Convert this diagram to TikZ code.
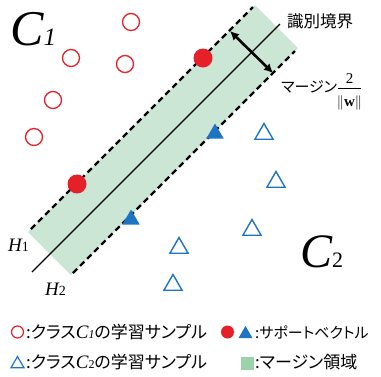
\documentclass[tikz,border=0pt]{standalone}
\usepackage{fontspec}
\setmainfont{Liberation Serif}
\newfontfamily\cjk[RawFeature={+palt}]{Noto Sans CJK JP}
\usetikzlibrary{arrows.meta,shapes.geometric}
\definecolor{cred}{RGB}{230,32,40}
\definecolor{cblue}{RGB}{30,115,195}
\definecolor{bandgreen}{RGB}{204,230,213}
\definecolor{leggreen}{RGB}{155,210,170}
\tikzset{
  opencirc/.style={circle,draw=cred,line width=1.3pt,minimum size=17pt,inner sep=0pt},
  fillcirc/.style={circle,fill=cred,minimum size=19pt,inner sep=0pt},
  opentri/.style={regular polygon,regular polygon sides=3,draw=cblue,line width=1.4pt,minimum size=21pt,inner sep=0pt},
  filltri/.style={regular polygon,regular polygon sides=3,fill=cblue,minimum size=20pt,inner sep=0pt},
  jp/.style={font=\cjk\fontsize{15}{18}\selectfont,inner sep=0pt},
  jpbig/.style={font=\cjk\fontsize{17}{20}\selectfont,inner sep=0pt},
  plain/.style={inner sep=0pt},
  hyper/.style={black,line width=2.2pt,dash pattern=on 6pt off 4pt},
}
\begin{document}
\begin{tikzpicture}[x=1pt,y=-1pt]
\useasboundingbox (0,0) rectangle (381,376);
% margin band
\coordinate (g1) at (28,232);
\coordinate (g2) at (255,5);
\coordinate (g3) at (298,48);
\coordinate (g4) at (71,275);
\fill[bandgreen] (g1) -- (g2) -- (g3) -- (g4) -- cycle;
\coordinate (h1a) at (31,229);
\coordinate (h1b) at (253,7);
\coordinate (h2a) at (73,273);
\coordinate (h2b) at (295,51);
\coordinate (sa) at (32,272);
\coordinate (sb) at (280,24);
\draw[hyper] (h1a) -- (h1b);
\draw[hyper] (h2a) -- (h2b);
\draw[line width=1.1pt] (sa) -- (sb);
\coordinate (ma) at (230,31);
\coordinate (mb) at (273,73);
\draw[line width=2.6pt,{Latex[length=9pt,width=9pt]}-{Latex[length=9pt,width=9pt]}] (ma) -- (mb);
% class 1 samples
\node[opencirc] (c1a) at (131,22) {};
\node[opencirc] (c1b) at (71,58) {};
\node[opencirc] (c1c) at (125,64) {};
\node[opencirc] (c1d) at (53,100) {};
\node[opencirc] (c1e) at (34,137) {};
\node[fillcirc] (s1a) at (77,184) {};
\node[fillcirc] (s1b) at (203,58) {};
% class 2 samples
\node[filltri] (s2a) at (215,133.5) {};
\node[filltri] (s2b) at (131,219.5) {};
\node[opentri] (c2a) at (264,134) {};
\node[opentri] (c2b) at (276,182) {};
\node[opentri] (c2c) at (179,248) {};
\node[opentri] (c2d) at (173,285) {};
\node[opentri] (c2e) at (252,230) {};
% labels
\node[plain,anchor=base west] (C1) at (10,45) {\fontsize{50}{50}\selectfont\itshape C\fontsize{25}{25}\selectfont 1};
\node[plain,anchor=base west] (C2) at (300,267) {\fontsize{48}{48}\selectfont\itshape C\upshape\fontsize{22}{22}\selectfont 2};
\node[plain,anchor=base west] (H1) at (8,251) {\fontsize{19}{19}\selectfont\itshape H\upshape\fontsize{14}{14}\selectfont 1};
\node[plain,anchor=base west] (H2) at (45,295) {\fontsize{19}{19}\selectfont\itshape H\upshape\fontsize{14}{14}\selectfont 2};
\node[jp,font=\cjk\fontsize{16.5}{19}\selectfont,anchor=west] (bnd) at (287,21) {識別境界};
\node[jp,anchor=west] (mrg) at (281,87) {マージン};
\node[plain,anchor=base] (num) at (349.5,83) {\fontsize{15}{15}\selectfont 2};
\coordinate (fa) at (338,88);
\coordinate (fb) at (361,88);
\draw[line width=0.6pt] (fa) -- (fb);
\node[plain,anchor=base] (den) at (349.5,106) {\fontsize{15}{15}\selectfont$\|$\textbf{w}$\|$};
% legend
\node[opencirc,minimum size=12pt,line width=1.2pt] (l1) at (17.5,332) {};
\node[jpbig,anchor=west] (l1t) at (26,332) {:クラス{\rmfamily\itshape\fontsize{19}{19}\selectfont C\fontsize{12}{12}\selectfont 1}の学習サンプル};
\node[fillcirc,minimum size=13pt] (l2) at (227.5,332) {};
\node[filltri,minimum size=16pt] (l3) at (245.5,334) {};
\node[jp,anchor=west] (l3t) at (255,332) {:サポートベクトル};
\node[opentri,minimum size=15pt,line width=1.2pt] (l4) at (17.5,364) {};
\node[jpbig,anchor=west] (l4t) at (26,362) {:クラス{\rmfamily\itshape\fontsize{19}{19}\selectfont C\upshape\fontsize{12}{12}\selectfont 2}の学習サンプル};
\node[fill=leggreen,minimum size=13pt,inner sep=0pt] (l5) at (247,363) {};
\node[jpbig,anchor=west] (l5t) at (255,362) {:マージン領域};
\end{tikzpicture}
\end{document}
